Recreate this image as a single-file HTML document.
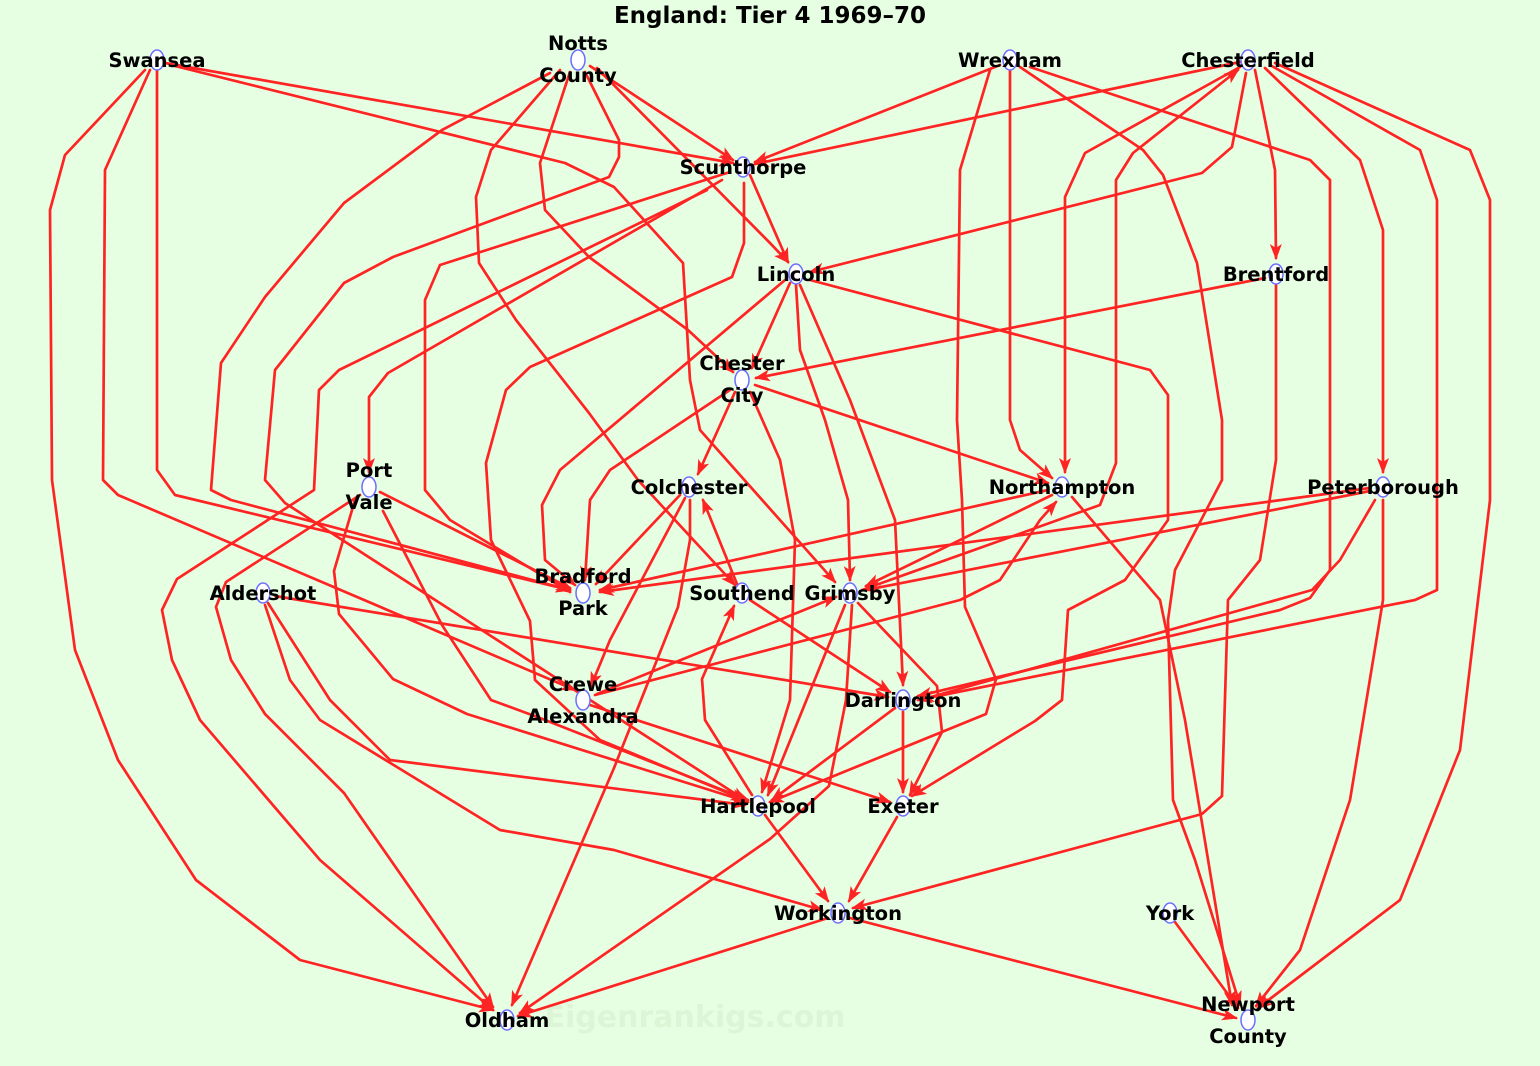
<!DOCTYPE html>
<html><head><meta charset="utf-8"><style>
html,body{margin:0;padding:0;background:#e6ffe2;}
svg{display:block;}
.e{fill:none;stroke:#ff2424;stroke-width:2.7;stroke-linejoin:round;stroke-linecap:round;marker-end:url(#a);}
.n{fill:#fff;stroke:#6d6dff;stroke-width:1.5;}
text{font-family:"DejaVu Sans","Liberation Sans",sans-serif;font-weight:bold;font-size:19.5px;fill:#000;text-anchor:middle;}
</style></head><body>
<svg width="1540" height="1066" viewBox="0 0 1540 1066" xmlns="http://www.w3.org/2000/svg">
<defs><marker id="a" markerWidth="16" markerHeight="12" refX="14" refY="6" orient="auto" markerUnits="userSpaceOnUse"><path d="M0,0 L16,6 L0,12 L4,6 z" fill="#ff2424"/></marker></defs>
<rect width="1540" height="1066" fill="#e6ffe2"/>
<text x="695" y="1027" style="font-size:30px;fill:#dcf5d6">Eigenrankigs.com</text>
<g>
<polyline class="e" points="165,63 733,163"/>
<polyline class="e" points="175,66 565,163 614,187 683,263 690,380 700,430 835,582"/>
<polyline class="e" points="157,70 157,470 175,495 570,590"/>
<polyline class="e" points="150,70 105,170 103,480 118,495 575,690"/>
<polyline class="e" points="145,70 65,155 50,210 52,480 75,650 118,760 196,880 300,960 493,1010"/>
<polyline class="e" points="590,66 733,160"/>
<polyline class="e" points="597,68 770,243 788,262"/>
<polyline class="e" points="570,72 540,163 545,210 589,257 688,330 733,372"/>
<polyline class="e" points="560,70 491,150 476,197 479,263 516,320 589,413 638,480 735,585"/>
<polyline class="e" points="550,73 442,130 344,203 265,297 221,363 211,490 231,500 570,590"/>
<polyline class="e" points="585,72 619,140 619,157 609,177 393,257 344,283 275,370 265,480 285,503 745,800"/>
<polyline class="e" points="750,175 788,262"/>
<polyline class="e" points="722,180 388,373 369,397 369,472"/>
<polyline class="e" points="730,172 440,265 425,300 425,490 450,520 570,592"/>
<polyline class="e" points="707,190 339,370 319,390 314,490 177,579 162,610 172,660 200,720 320,860 493,1010"/>
<polyline class="e" points="744,183 744,243 732,277 530,367 506,390 486,463 491,540 530,621 535,680 600,740 745,800"/>
<polyline class="e" points="1000,65 755,162"/>
<polyline class="e" points="1010,70 1010,420 1020,450 1052,478"/>
<polyline class="e" points="990,70 960,170 957,420 962,500 965,607 996,679 986,714 770,802"/>
<polyline class="e" points="1020,67 1143,150 1163,175 1197,263 1222,420 1222,480 1175,570 1168,620 1173,800 1195,860 1240,1005"/>
<polyline class="e" points="1030,67 1310,160 1330,180 1330,570 1310,598 1280,610 918,696"/>
<polyline class="e" points="1240,62 755,164"/>
<polyline class="e" points="1246,73 1232,147 1202,173 810,272"/>
<polyline class="e" points="1255,70 1275,170 1276,258"/>
<polyline class="e" points="1265,68 1360,160 1383,230 1383,472"/>
<polyline class="e" points="1270,65 1420,150 1437,200 1437,590 1415,600 918,700"/>
<polyline class="e" points="1275,63 1470,150 1490,200 1490,500 1460,750 1400,900 1258,1008"/>
<polyline class="e" points="1240,67 1085,153 1065,197 1065,472"/>
<polyline class="e" points="862,590 1100,505 1116,463 1116,180 1133,153 1238,70"/>
<polyline class="e" points="1265,278 756,378"/>
<polyline class="e" points="1276,285 1276,460 1260,560 1228,600 1222,796 1202,814 853,908"/>
<polyline class="e" points="790,283 752,368"/>
<polyline class="e" points="785,280 560,470 542,505 545,560 575,585"/>
<polyline class="e" points="796,285 800,350 825,420 848,500 850,580"/>
<polyline class="e" points="800,285 850,400 895,520 903,685"/>
<polyline class="e" points="810,280 1150,370 1168,395 1168,520 1125,580 1068,610 1062,700 1035,721 912,796"/>
<polyline class="e" points="735,392 698,474"/>
<polyline class="e" points="755,385 1048,483"/>
<polyline class="e" points="730,390 610,470 590,500 585,580"/>
<polyline class="e" points="750,392 780,460 795,540 790,700 762,792"/>
<polyline class="e" points="380,492 570,588"/>
<polyline class="e" points="383,511 442,625 491,700 540,718 748,800"/>
<polyline class="e" points="360,495 226,582 216,607 231,660 265,714 344,793 493,1007"/>
<polyline class="e" points="355,500 334,571 339,614 393,679 467,714 748,802"/>
<polyline class="e" points="680,495 596,584"/>
<polyline class="e" points="685,498 610,640 591,686"/>
<polyline class="e" points="690,500 690,540 678,607 614,768 512,1005"/>
<polyline class="e" points="737,584 703,500"/>
<polyline class="e" points="1048,490 600,590"/>
<polyline class="e" points="1052,495 866,586"/>
<polyline class="e" points="1072,497 1160,600 1185,720 1232,1005"/>
<polyline class="e" points="595,695 960,600 1000,580 1040,520 1056,502"/>
<polyline class="e" points="1370,488 600,592"/>
<polyline class="e" points="1370,491 866,590"/>
<polyline class="e" points="1375,500 1340,560 1312,590 920,700"/>
<polyline class="e" points="1383,500 1383,600 1350,800 1300,950 1256,1006"/>
<polyline class="e" points="275,596 888,697"/>
<polyline class="e" points="268,603 330,700 390,760 745,805"/>
<polyline class="e" points="265,605 290,680 320,720 500,830 614,850 822,910"/>
<polyline class="e" points="590,705 890,802"/>
<polyline class="e" points="597,694 836,597"/>
<polyline class="e" points="750,600 890,692"/>
<polyline class="e" points="752,795 705,720 702,679 734,606"/>
<polyline class="e" points="845,605 768,795"/>
<polyline class="e" points="858,603 937,686 942,732 910,795"/>
<polyline class="e" points="852,605 846,700 829,786 770,839 520,1013"/>
<polyline class="e" points="903,712 903,792"/>
<polyline class="e" points="895,708 772,800"/>
<polyline class="e" points="765,815 828,901"/>
<polyline class="e" points="897,817 849,901"/>
<polyline class="e" points="828,918 518,1016"/>
<polyline class="e" points="850,918 1236,1018"/>
<polyline class="e" points="1175,922 1238,1008"/>
</g>
<g>
<ellipse class="n" cx="157" cy="60" rx="7" ry="10"/>
<ellipse class="n" cx="578" cy="60" rx="7" ry="10"/>
<ellipse class="n" cx="1010" cy="60" rx="7" ry="10"/>
<ellipse class="n" cx="1248" cy="60" rx="7" ry="10"/>
<ellipse class="n" cx="743" cy="167" rx="7" ry="10"/>
<ellipse class="n" cx="796" cy="274" rx="7" ry="10"/>
<ellipse class="n" cx="1276" cy="274" rx="7" ry="10"/>
<ellipse class="n" cx="742" cy="380" rx="7" ry="10"/>
<ellipse class="n" cx="369" cy="487" rx="7" ry="10"/>
<ellipse class="n" cx="689" cy="487" rx="7" ry="10"/>
<ellipse class="n" cx="1062" cy="487" rx="7" ry="10"/>
<ellipse class="n" cx="1383" cy="487" rx="7" ry="10"/>
<ellipse class="n" cx="583" cy="593" rx="7" ry="10"/>
<ellipse class="n" cx="263" cy="593" rx="7" ry="10"/>
<ellipse class="n" cx="742" cy="593" rx="7" ry="10"/>
<ellipse class="n" cx="850" cy="593" rx="7" ry="10"/>
<ellipse class="n" cx="583" cy="700" rx="7" ry="10"/>
<ellipse class="n" cx="903" cy="700" rx="7" ry="10"/>
<ellipse class="n" cx="758" cy="806" rx="7" ry="10"/>
<ellipse class="n" cx="903" cy="806" rx="7" ry="10"/>
<ellipse class="n" cx="838" cy="913" rx="7" ry="10"/>
<ellipse class="n" cx="1170" cy="913" rx="7" ry="10"/>
<ellipse class="n" cx="507" cy="1020" rx="7" ry="10"/>
<ellipse class="n" cx="1248" cy="1020" rx="7" ry="10"/>
</g>
<g>
<text x="770" y="23" style="font-size:23px">England: Tier 4 1969–70</text>
<text x="157" y="67">Swansea</text>
<text x="578" y="50">Notts</text><text x="578" y="82">County</text>
<text x="1010" y="67">Wrexham</text>
<text x="1248" y="67">Chesterfield</text>
<text x="743" y="174">Scunthorpe</text>
<text x="796" y="281">Lincoln</text>
<text x="1276" y="281">Brentford</text>
<text x="742" y="370">Chester</text><text x="742" y="402">City</text>
<text x="369" y="477">Port</text><text x="369" y="509">Vale</text>
<text x="689" y="494">Colchester</text>
<text x="1062" y="494">Northampton</text>
<text x="1383" y="494">Peterborough</text>
<text x="583" y="583">Bradford</text><text x="583" y="615">Park</text>
<text x="263" y="600">Aldershot</text>
<text x="742" y="600">Southend</text>
<text x="850" y="600">Grimsby</text>
<text x="583" y="691">Crewe</text><text x="583" y="723">Alexandra</text>
<text x="903" y="707">Darlington</text>
<text x="758" y="813">Hartlepool</text>
<text x="903" y="813">Exeter</text>
<text x="838" y="920">Workington</text>
<text x="1170" y="920">York</text>
<text x="507" y="1027">Oldham</text>
<text x="1248" y="1011">Newport</text><text x="1248" y="1043">County</text>
</g>
</svg>
</body></html>
